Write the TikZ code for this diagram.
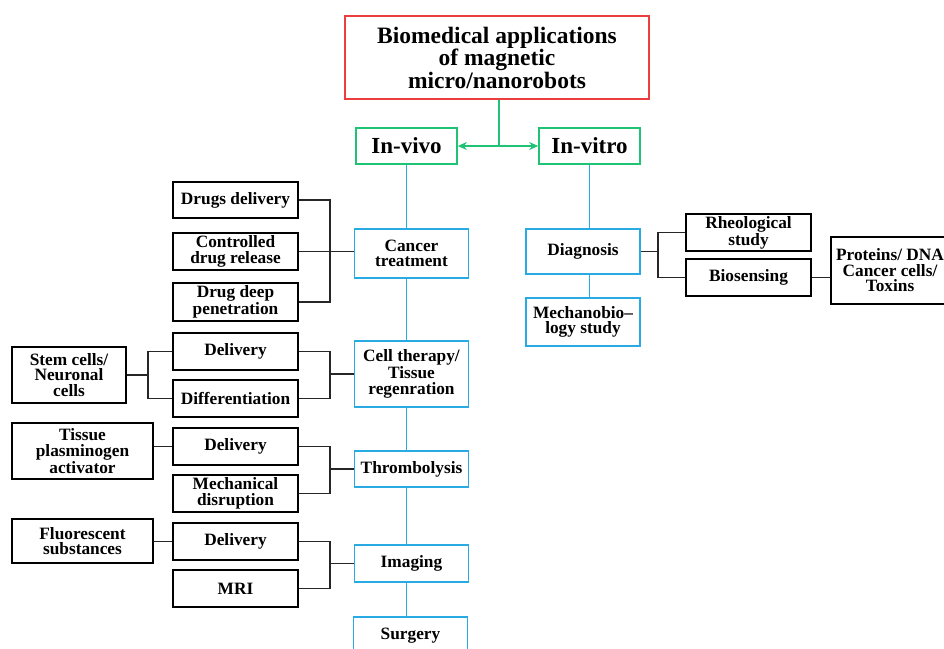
\documentclass[tikz,border=0pt]{standalone}
\usepackage{fontspec}
\setmainfont{Liberation Serif}
\usetikzlibrary{arrows.meta,backgrounds}
\definecolor{tred}{RGB}{236,62,62}
\definecolor{tgreen}{RGB}{30,196,116}
\definecolor{tblue}{RGB}{40,170,226}
\tikzset{
  base/.style={align=center, inner sep=0pt, fill=white, font={\bfseries\fontsize{17.3}{15.5}\selectfont}},
  bbox/.style={base, draw=black, line width=1.2pt},
  blbox/.style={base, draw=tblue, line width=1.6pt},
  gbox/.style={base, draw=tgreen, line width=1.6pt, font={\bfseries\fontsize{23}{21}\selectfont}},
  conn/.style={draw=black!85, line width=1.5pt},
  bconn/.style={draw=tblue, line width=1.6pt},
  gconn/.style={draw=tgreen, line width=1.5pt},
}
\begin{document}
\begin{tikzpicture}[x=1pt,y=-1pt]
\clip (0,0) rectangle (944,648);
% title and top level
\node[base, draw=tred, line width=1.3pt, minimum width=304, minimum height=83,
  font={\bfseries\fontsize{23.5}{21}\selectfont}] (title) at (497,57.5)
  {Biomedical applications\\of magnetic\\micro/nanorobots};
\node[gbox, minimum width=101, minimum height=36] (invivo) at (406.5,146) {In-vivo};
\node[gbox, minimum width=101, minimum height=36] (invitro) at (589.5,146) {In-vitro};
\coordinate (gj) at (499,146);
\draw[gconn] (title.south -| gj) -- (gj);
\draw[gconn, {Stealth[length=9pt,width=8pt]}-{Stealth[length=9pt,width=8pt]}] (invivo.east) -- (invitro.west);

% in-vivo column
\node[blbox, minimum width=114, minimum height=49] (ct) at (411.5,253.5) {Cancer\\treatment};
\node[blbox, minimum width=114, minimum height=66] (ctr) at (411.5,374) {Cell therapy/\\Tissue\\regenration};
\node[blbox, minimum width=114, minimum height=36] (thr) at (411.5,469) {Thrombolysis};
\node[blbox, minimum width=114, minimum height=37] (img) at (411.5,563.5) {Imaging};
\node[blbox, minimum width=114, minimum height=38] (sur) at (410.5,636) {\raisebox{3pt}{Surgery}};

\node[bbox, minimum width=125, minimum height=36] (dd) at (235.5,200) {Drugs delivery};
\node[bbox, minimum width=125, minimum height=37] (cdr) at (235.5,251.5) {Controlled\\drug release};
\node[bbox, minimum width=125, minimum height=38] (ddp) at (235.5,302) {Drug deep\\penetration};
\node[bbox, minimum width=125, minimum height=37] (del1) at (235.5,351.5) {Delivery};
\node[bbox, minimum width=125, minimum height=37] (dif) at (235.5,398.5) {Differentiation};
\node[bbox, minimum width=125, minimum height=37] (del2) at (235.5,446.5) {Delivery};
\node[bbox, minimum width=125, minimum height=37] (mech) at (235.5,493.5) {Mechanical\\disruption};
\node[bbox, minimum width=125, minimum height=37] (del3) at (235.5,541.5) {Delivery};
\node[bbox, minimum width=125, minimum height=37] (mri) at (235.5,588.5) {MRI};

\node[bbox, minimum width=114, minimum height=56] (stem) at (69,375) {Stem cells/\\Neuronal\\cells};
\node[bbox, minimum width=141, minimum height=56] (tpa) at (82.5,451) {Tissue\\plasminogen\\activator};
\node[bbox, minimum width=141, minimum height=44] (fl) at (82.5,541) {Fluorescent\\substances};

% in-vitro column
\node[blbox, minimum width=114, minimum height=45] (diag) at (583,251.5) {Diagnosis};
\node[blbox, minimum width=114, minimum height=48] (mbs) at (583,322) {Mechanobio–\\logy study};
\node[bbox, minimum width=125, minimum height=37] (rheo) at (748.5,232.5) {Rheological\\study};
\node[bbox, minimum width=125, minimum height=37] (bio) at (748.5,277.5) {Biosensing};
\node[bbox, minimum width=118, minimum height=67] (prot) at (890,270.5) {Proteins/ DNA\\Cancer cells/\\Toxins};

\coordinate (b1) at (330,0);
\coordinate (b0) at (148,0);
\coordinate (b2) at (658,0);

\begin{scope}[on background layer]
  \draw[bconn] (invivo.south) -- (invivo.south |- sur.north);
  \draw[bconn] (invitro.south) -- (invitro.south |- mbs.north);
  % cancer treatment
  \draw[conn] (dd.east) -- (dd.east -| b1) -- (ddp.east -| b1) -- (ddp.east);
  \draw[conn] (cdr.east) -- (cdr.east -| ct.west);
  % cell therapy
  \draw[conn] (del1.east) -- (del1.east -| b1) -- (dif.east -| b1) -- (dif.east);
  \draw[conn] (b1 |- ctr.west) -- (ctr.west);
  \draw[conn] (del1.west) -- (del1.west -| b0) -- (dif.west -| b0) -- (dif.west);
  \draw[conn] (stem.east) -- (stem.east -| b0);
  % thrombolysis
  \draw[conn] (del2.east) -- (del2.east -| b1) -- (mech.east -| b1) -- (mech.east);
  \draw[conn] (b1 |- thr.west) -- (thr.west);
  \draw[conn] (tpa.east |- del2.west) -- (del2.west);
  % imaging
  \draw[conn] (del3.east) -- (del3.east -| b1) -- (mri.east -| b1) -- (mri.east);
  \draw[conn] (b1 |- img.west) -- (img.west);
  \draw[conn] (fl.east |- del3.west) -- (del3.west);
  % diagnosis
  \draw[conn] (rheo.west) -- (rheo.west -| b2) -- (bio.west -| b2) -- (bio.west);
  \draw[conn] (diag.east) -- (diag.east -| b2);
  \draw[conn] (bio.east) -- (bio.east -| prot.west);
\end{scope}
\end{tikzpicture}
\end{document}
